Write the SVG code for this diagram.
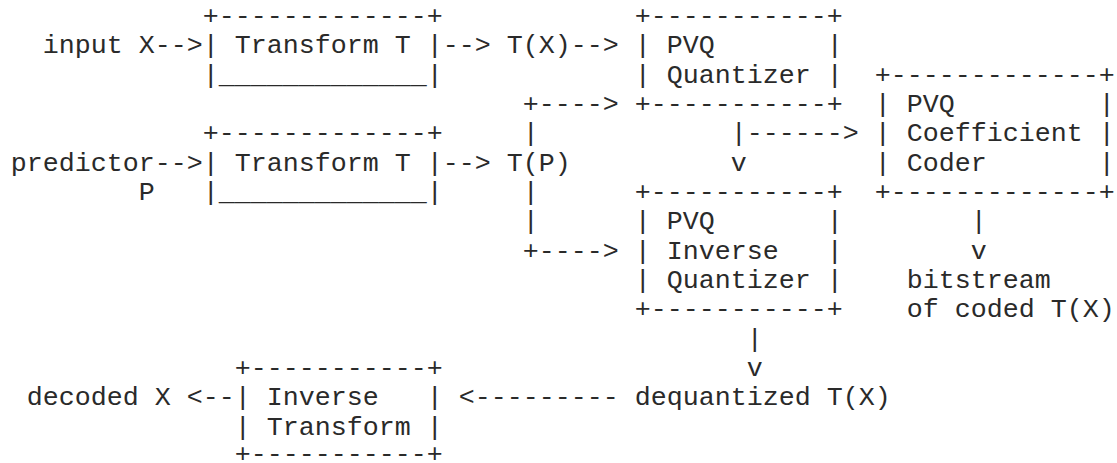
<svg xmlns="http://www.w3.org/2000/svg" width="1117" height="463" viewBox="0 0 1117 463">
<style>
text{font-family:"Courier New","Liberation Mono",monospace;font-size:26.667px;fill:#2a2a2a;white-space:pre}
</style>
<rect width="1117" height="463" fill="#fff"/>
<g id="transform-x">
<text x="202.7" y="24">+-------------+</text>
<text x="202.7" y="53.3">|</text><text x="234.7" y="53.3">Transform T</text><text x="426.7" y="53.3">|</text>
<text x="202.7" y="82.7">|_____________|</text>
</g>
<g id="pvq-quantizer">
<text x="634.7" y="24">+-----------+</text>
<text x="634.7" y="53.3">|</text><text x="666.7" y="53.3">PVQ</text><text x="826.7" y="53.3">|</text>
<text x="634.7" y="82.7">|</text><text x="666.7" y="82.7">Quantizer</text><text x="826.7" y="82.7">|</text>
<text x="634.7" y="112">+-----------+</text>
</g>
<g id="pvq-coefficient-coder">
<text x="874.7" y="82.7">+-------------+</text>
<text x="874.7" y="112">|</text><text x="906.7" y="112">PVQ</text><text x="1098.7" y="112">|</text>
<text x="874.7" y="141.3">|</text><text x="906.7" y="141.3">Coefficient</text><text x="1098.7" y="141.3">|</text>
<text x="874.7" y="170.7">|</text><text x="906.7" y="170.7">Coder</text><text x="1098.7" y="170.7">|</text>
<text x="874.7" y="200">+-------------+</text>
</g>
<g id="transform-p">
<text x="202.7" y="141.3">+-------------+</text>
<text x="202.7" y="170.7">|</text><text x="234.7" y="170.7">Transform T</text><text x="426.7" y="170.7">|</text>
<text x="202.7" y="200">|_____________|</text>
</g>
<g id="pvq-inverse-quantizer">
<text x="634.7" y="200">+-----------+</text>
<text x="634.7" y="229.3">|</text><text x="666.7" y="229.3">PVQ</text><text x="826.7" y="229.3">|</text>
<text x="634.7" y="258.7">|</text><text x="666.7" y="258.7">Inverse</text><text x="826.7" y="258.7">|</text>
<text x="634.7" y="288">|</text><text x="666.7" y="288">Quantizer</text><text x="826.7" y="288">|</text>
<text x="634.7" y="317.3">+-----------+</text>
</g>
<g id="inverse-transform">
<text x="234.7" y="376">+-----------+</text>
<text x="234.7" y="405.3">|</text><text x="266.7" y="405.3">Inverse</text><text x="426.7" y="405.3">|</text>
<text x="234.7" y="434.7">|</text><text x="266.7" y="434.7">Transform</text><text x="426.7" y="434.7">|</text>
<text x="234.7" y="462">+-----------+</text>
</g>
<g id="label-input-x"><text x="42.7" y="53.3">input X</text></g>
<g id="label-predictor-p"><text x="10.7" y="170.7">predictor</text><text x="138.7" y="200">P</text></g>
<g id="label-tx"><text x="506.7" y="53.3">T(X)</text></g>
<g id="label-tp"><text x="506.7" y="170.7">T(P)</text></g>
<g id="label-bitstream"><text x="906.7" y="288">bitstream</text><text x="906.7" y="317.3">of coded T(X)</text></g>
<g id="label-dequantized"><text x="634.7" y="405.3">dequantized T(X)</text></g>
<g id="label-decoded-x"><text x="26.7" y="405.3">decoded X</text></g>
<g id="connectors">
<text x="154.7" y="53.3">--&gt;</text>
<text x="442.7" y="53.3">--&gt;</text>
<text x="570.7" y="53.3">--&gt;</text>
<text x="522.7" y="112">+----&gt;</text>
<text x="522.7" y="141.3">|</text>
<text x="730.7" y="141.3">|------&gt;</text>
<text x="154.7" y="170.7">--&gt;</text>
<text x="442.7" y="170.7">--&gt;</text>
<text x="730.7" y="170.7">v</text>
<text x="522.7" y="200">|</text>
<text x="522.7" y="229.3">|</text>
<text x="970.7" y="229.3">|</text>
<text x="522.7" y="258.7">+----&gt;</text>
<text x="970.7" y="258.7">v</text>
<text x="746.7" y="346.7">|</text>
<text x="746.7" y="376">v</text>
<text x="186.7" y="405.3">&lt;--</text>
<text x="458.7" y="405.3">&lt;---------</text>
</g>
</svg>
